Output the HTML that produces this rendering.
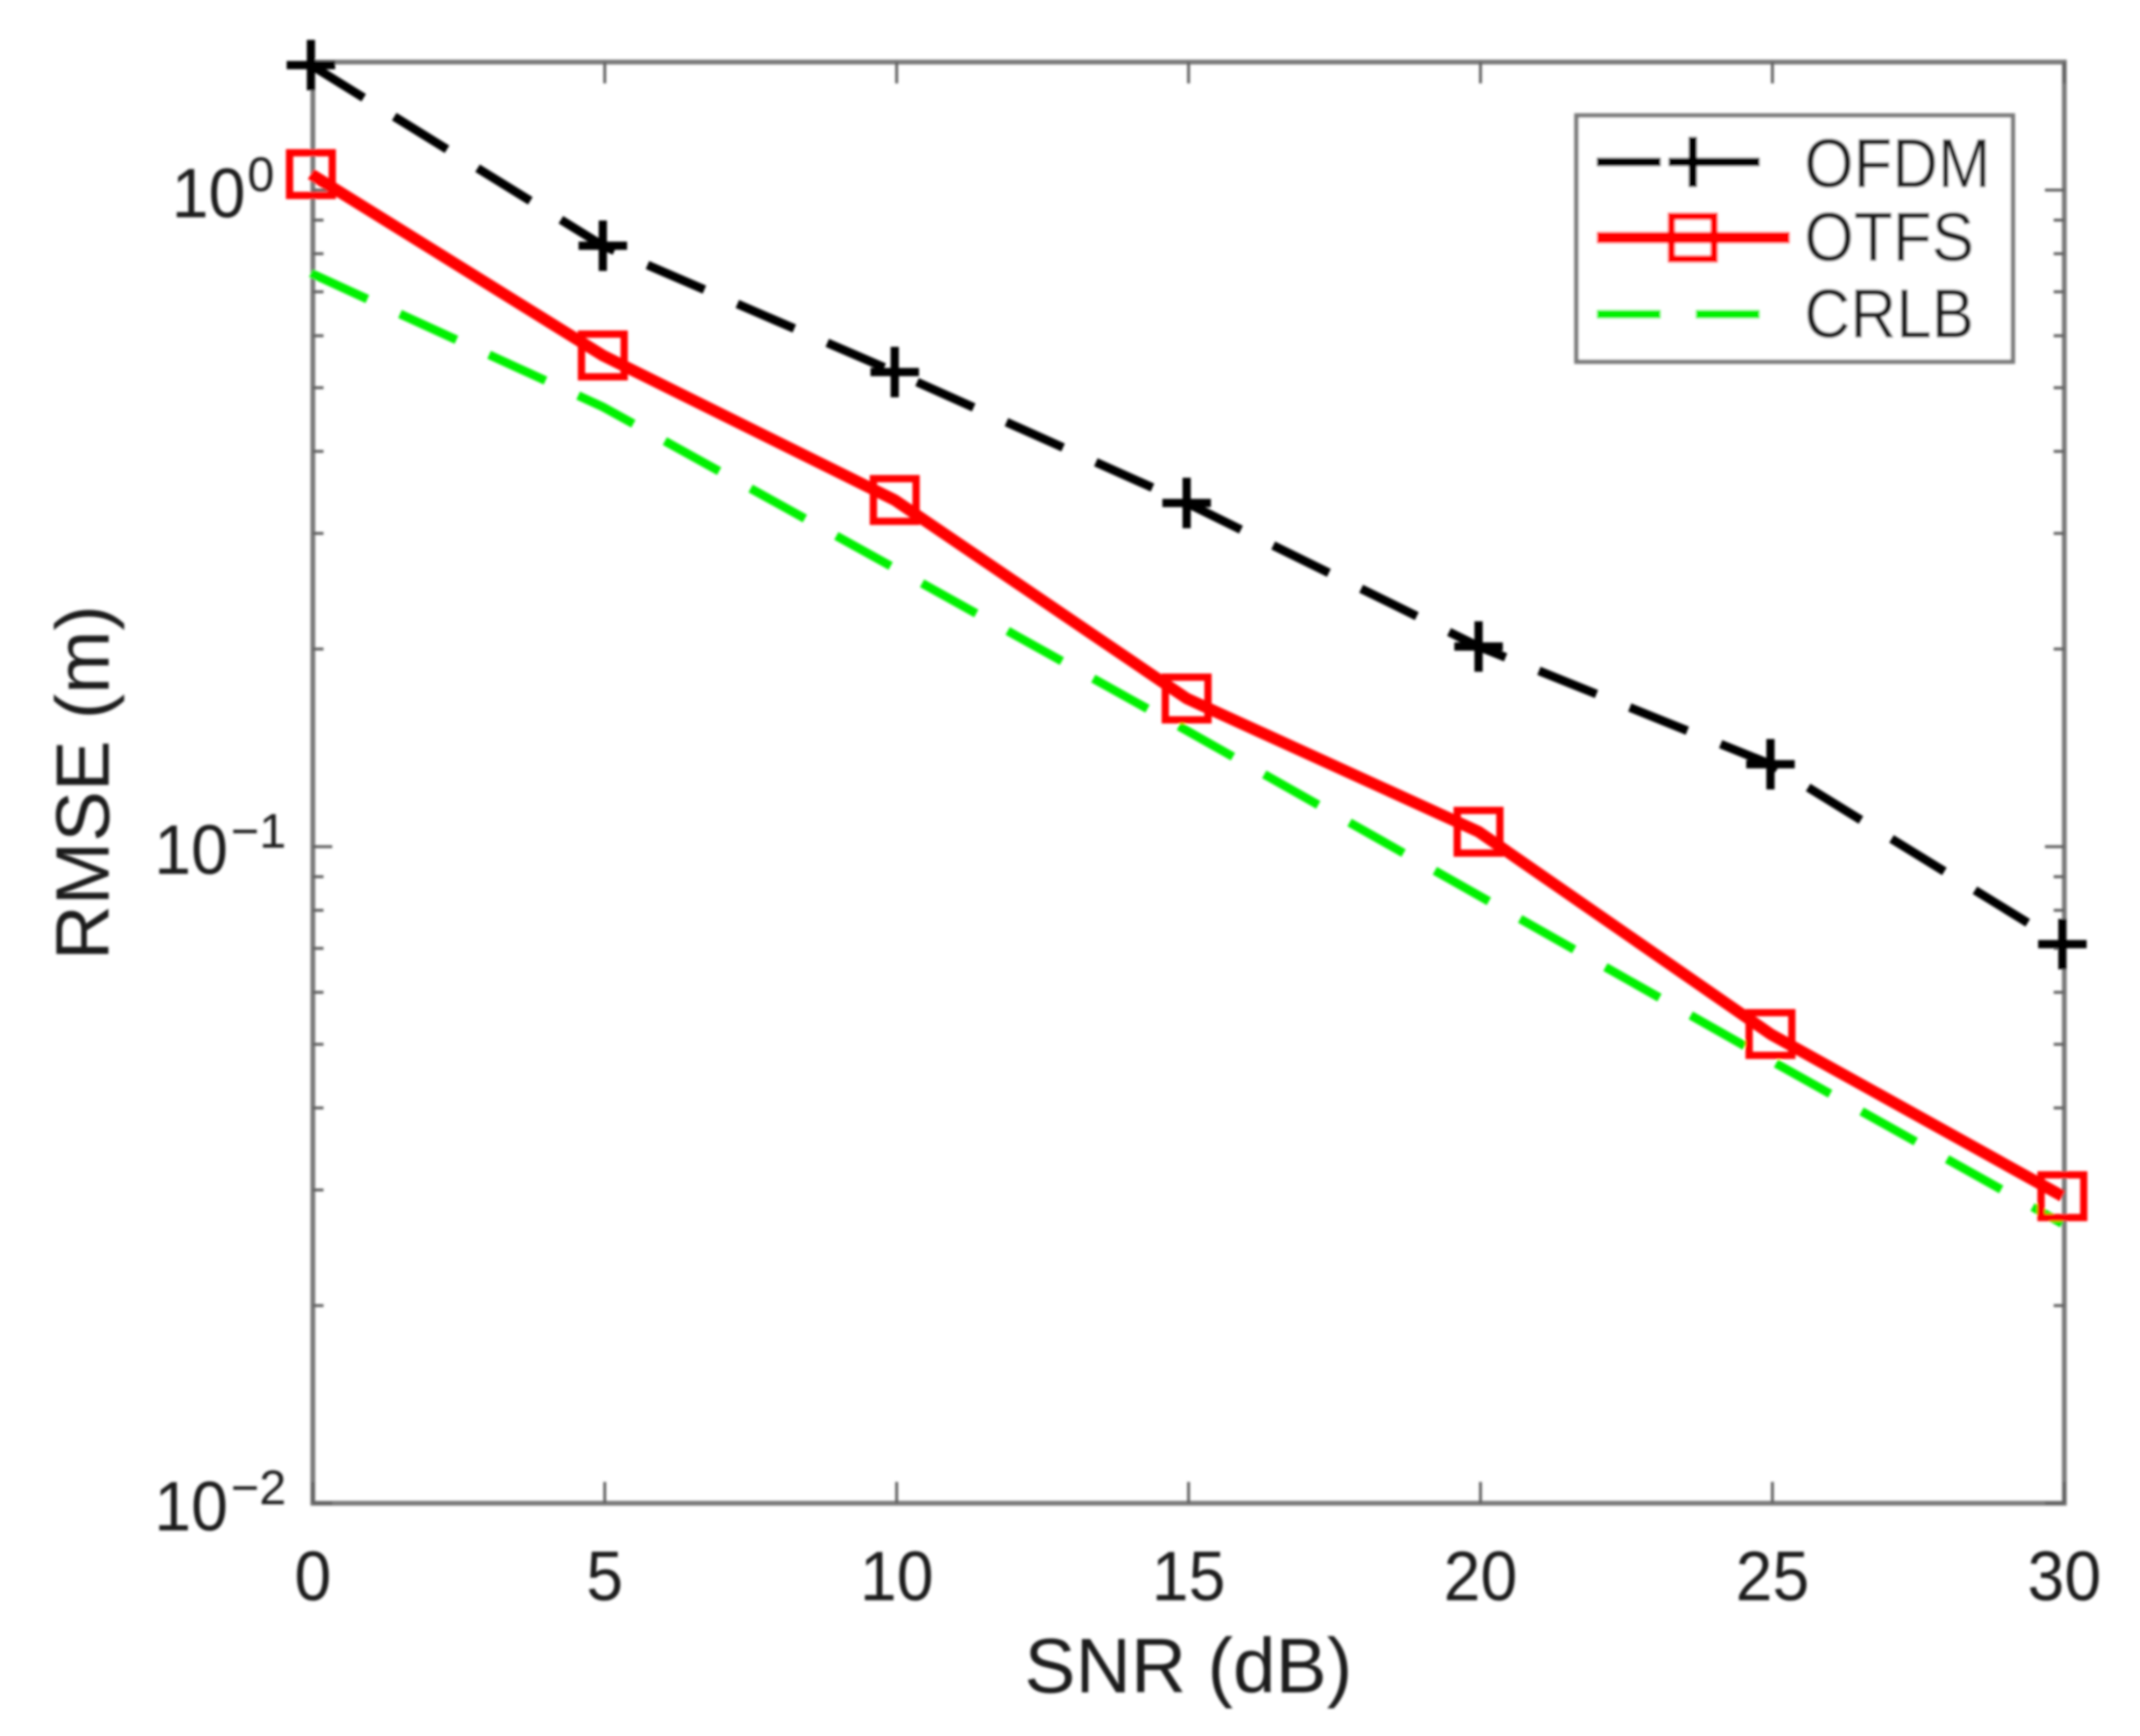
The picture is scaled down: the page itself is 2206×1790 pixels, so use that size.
<!DOCTYPE html>
<html lang="en">
<head>
<meta charset="utf-8">
<title>RMSE vs SNR</title>
<style>
html,body{margin:0;padding:0;background:#fff;width:2206px;height:1790px;overflow:hidden}
svg{display:block}
text{font-family:"Liberation Sans",Arial,sans-serif;fill:#1f1f1f}
</style>
</head>
<body>
<svg id="chart" xmlns="http://www.w3.org/2000/svg" width="2206" height="1790" viewBox="0 0 2206 1790">
  <defs>
    <filter id="soft" x="-2%" y="-2%" width="104%" height="104%"><feGaussianBlur stdDeviation="1.4"/></filter>
  </defs>
  <g id="root" filter="url(#soft)">
    <g id="frame"></g>
    <g id="series" transform="translate(-2,1.5)"></g>
    <text id="xTitle" x="1225" y="1745" font-size="80" text-anchor="middle" textLength="338" lengthAdjust="spacingAndGlyphs">SNR (dB)</text>
    <text id="yTitle" transform="translate(112,807) rotate(-90)" font-size="78" text-anchor="middle" textLength="366" lengthAdjust="spacingAndGlyphs">RMSE (m)</text>
    <g id="legend"></g>
  </g>
</svg>
<script>
const snrValues = [0, 5, 10, 15, 20, 25, 30];
const ofdmValues = [1.558, 0.827, 0.531, 0.3355, 0.2028, 0.1342, 0.0714];
const otfsValues = [1.063, 0.5628, 0.339, 0.169, 0.1059, 0.0521, 0.0295];
const crlbValues = [0.751, 0.470, 0.267, 0.151, 0.0847, 0.0475, 0.0268];
const xTickValues = [0, 5, 10, 15, 20, 25, 30];
const yDecadeExponents = [0, -1, -2];
const yMinorMultipliers = [2, 3, 4, 5, 6, 7, 8, 9];
const legendLabels = ['OFDM', 'OTFS', 'CRLB'];

const NS = 'http://www.w3.org/2000/svg';
const plotLeft = 322.5, plotRight = 2128, plotTop = 64, plotBottom = 1550;
const xMin = 0, xMax = 30, yLogBottom = -2, decadePx = 677;

function xScale(v) { return plotLeft + (v - xMin) / (xMax - xMin) * (plotRight - plotLeft); }
function yScale(v) { return plotBottom - (Math.log10(v) - yLogBottom) * decadePx; }
function make(tag, attrs, parent) {
  const el = document.createElementNS(NS, tag);
  for (const k in attrs) el.setAttribute(k, attrs[k]);
  parent.appendChild(el);
  return el;
}

const frame = document.getElementById('frame');
const seriesGroup = document.getElementById('series');
const legend = document.getElementById('legend');
const axisColor = '#7a7a7a', tickColor = '#606060';

const box = make('rect', {x: plotLeft, y: plotTop, width: plotRight - plotLeft, height: plotBottom - plotTop, fill: 'none', stroke: axisColor, 'stroke-width': 5}, frame);



function tick(x1, y1, x2, y2, w, name) {
  const t = make('line', {x1: x1, y1: y1, x2: x2, y2: y2, stroke: tickColor, 'stroke-width': w}, frame);
  
  
}

xTickValues.forEach(function (v) {
  const x = xScale(v);
  tick(x, plotBottom, x, plotBottom - 22, 3, 'x-tick-bottom-' + v);
  tick(x, plotTop, x, plotTop + 22, 3, 'x-tick-top-' + v);
  const lab = make('text', {x: x, y: 1650, 'font-size': 72, 'text-anchor': 'middle', textLength: String(v).length === 1 ? 38 : 76, lengthAdjust: 'spacingAndGlyphs'}, frame);
  lab.textContent = String(v);
  
  
});

yDecadeExponents.forEach(function (e) {
  const y = yScale(Math.pow(10, e));
  tick(plotLeft, y, plotLeft + 20, y, 3, 'y-tick-left-' + e);
  tick(plotRight, y, plotRight - 20, y, 3, 'y-tick-right-' + e);
  const base = make('text', {x: e === 0 ? 177 : 159, y: y + 28, 'font-size': 72, textLength: 76, lengthAdjust: 'spacingAndGlyphs'}, frame);
  base.textContent = '10';
  
  
  const sup = make('text', {x: e === 0 ? 255 : 238, y: y + 1, 'font-size': 50}, frame);
  sup.textContent = e < 0 ? '\u2212' + Math.abs(e) : String(e);
  
  
  if (e < 0) {
    yMinorMultipliers.forEach(function (m) {
      const my = yScale(m * Math.pow(10, e));
      tick(plotLeft, my, plotLeft + 11, my, 3, 'y-minor-left-' + e + '-' + m);
      tick(plotRight, my, plotRight - 11, my, 3, 'y-minor-right-' + e + '-' + m);
    });
  }
});

function linePoints(values) {
  return values.map(function (v, i) { return xScale(snrValues[i]).toFixed(1) + ',' + yScale(v).toFixed(1); }).join(' ');
}

const crlbLine = make('polyline', {points: linePoints(crlbValues), fill: 'none', stroke: '#00f000', 'stroke-width': 9, 'stroke-dasharray': '64 37'}, seriesGroup);



const ofdmLine = make('polyline', {points: linePoints(ofdmValues), fill: 'none', stroke: '#000', 'stroke-width': 9, 'stroke-dasharray': '64 37'}, seriesGroup);



const otfsLine = make('polyline', {points: linePoints(otfsValues), fill: 'none', stroke: '#ff0000', 'stroke-width': 12, 'stroke-linejoin': 'round'}, seriesGroup);



function plusMarker(cx, cy, parent, name) {
  const p = make('path', {d: 'M' + (cx - 25) + ' ' + cy + 'H' + (cx + 25) + 'M' + cx + ' ' + (cy - 26) + 'V' + (cy + 26), stroke: '#000', 'stroke-width': 8.5, fill: 'none'}, parent);
  
  
}
function squareMarker(cx, cy, parent, name) {
  const r = make('rect', {x: cx - 22, y: cy - 22, width: 44, height: 44, stroke: '#ff0000', 'stroke-width': 7.5, fill: 'none'}, parent);
  
  
}

ofdmValues.forEach(function (v, i) { plusMarker(xScale(snrValues[i]), yScale(v), seriesGroup, 'ofdm-point-' + snrValues[i]); });
otfsValues.forEach(function (v, i) { squareMarker(xScale(snrValues[i]), yScale(v), seriesGroup, 'otfs-point-' + snrValues[i]); });

const legendBox = make('rect', {x: 1625, y: 119, width: 450, height: 254, fill: '#fff', stroke: axisColor, 'stroke-width': 4.5}, legend);



const legendRows = [193, 269, 348];
const legendLineY = [167, 245, 324];
const legendWidths = [192, 175, 175];
legendLabels.forEach(function (label, i) {
  const t = make('text', {x: 1860, y: legendRows[i], 'font-size': 71, textLength: legendWidths[i], lengthAdjust: 'spacingAndGlyphs'}, legend);
  t.textContent = label;
  
  
});

const sampleOfdm = make('line', {x1: 1646, x2: 1815, y1: legendLineY[0], y2: legendLineY[0], stroke: '#000', 'stroke-width': 9, 'stroke-dasharray': '66 36'}, legend);


plusMarker(1745, legendLineY[0], legend, 'legend-marker-ofdm');

const sampleOtfs = make('line', {x1: 1646, x2: 1845, y1: legendLineY[1], y2: legendLineY[1], stroke: '#ff0000', 'stroke-width': 12}, legend);


squareMarker(1745, legendLineY[1], legend, 'legend-marker-otfs');

const sampleCrlb = make('line', {x1: 1646, x2: 1815, y1: legendLineY[2], y2: legendLineY[2], stroke: '#00f000', 'stroke-width': 9, 'stroke-dasharray': '66 36'}, legend);


</script>
</body>
</html>
